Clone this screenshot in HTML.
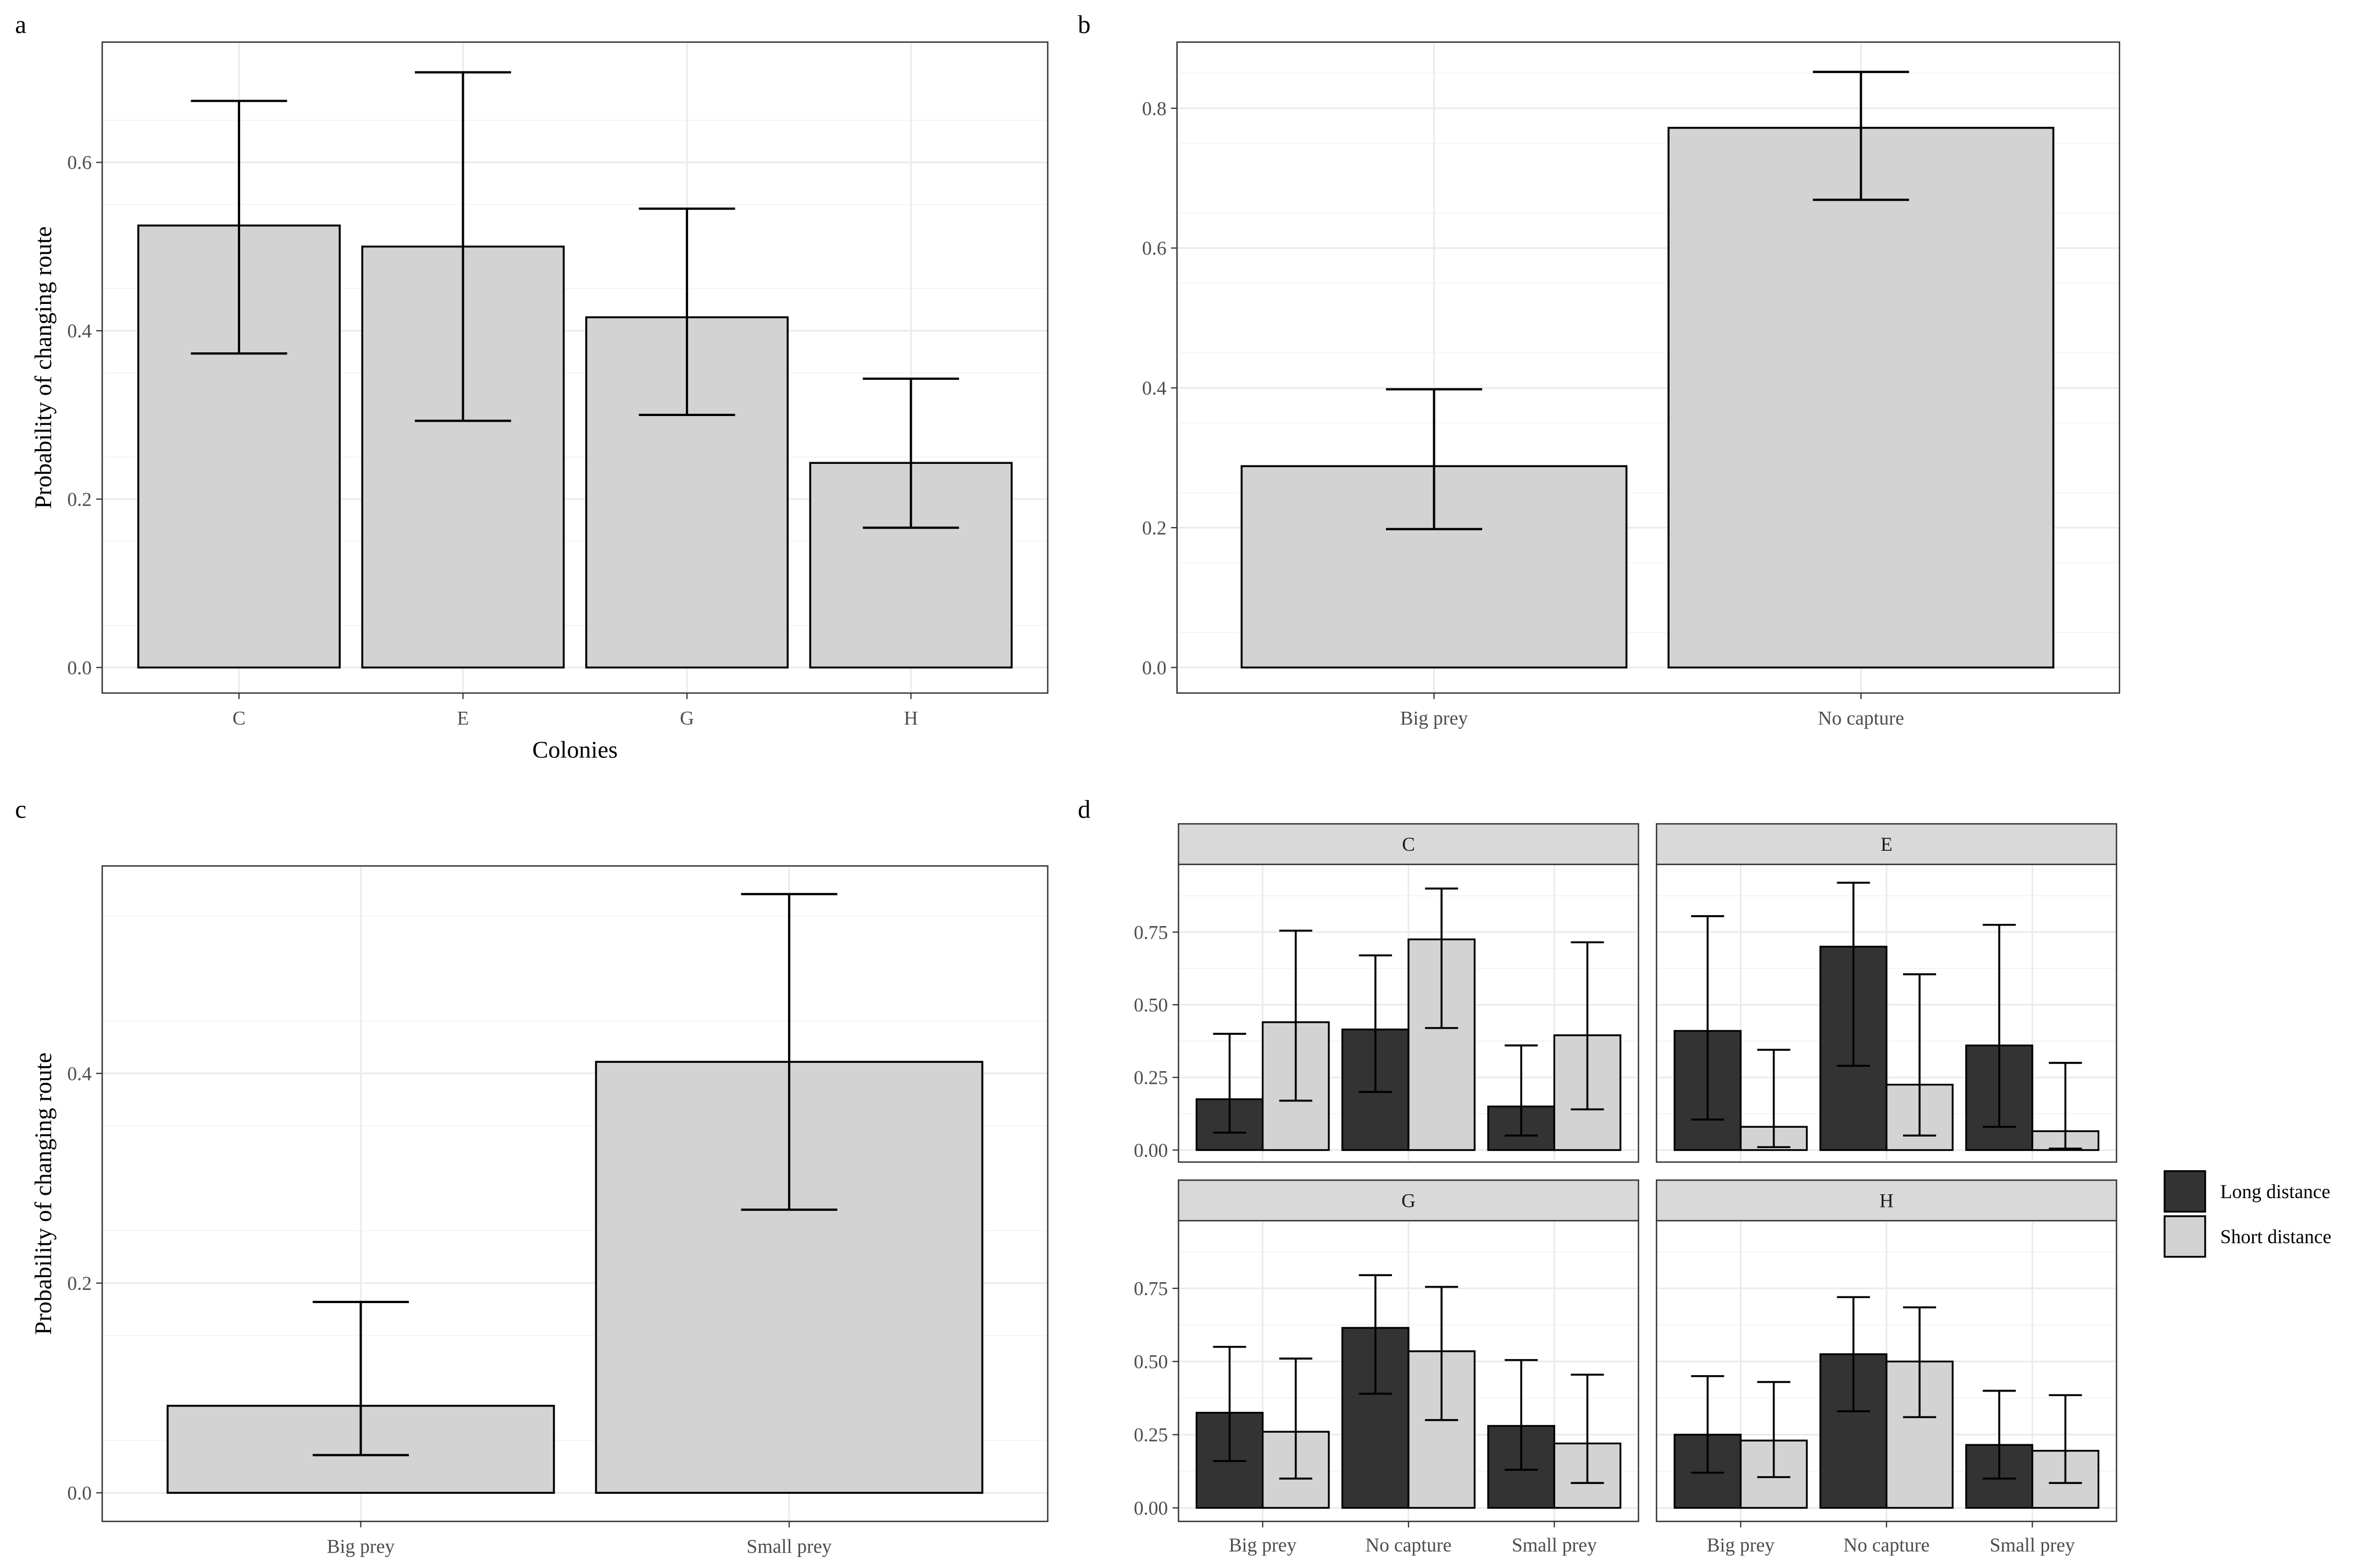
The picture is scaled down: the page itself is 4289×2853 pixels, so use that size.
<!DOCTYPE html>
<html><head><meta charset="utf-8"><title>Probability of changing route</title>
<style>
html,body{margin:0;padding:0;background:#fff;}
svg{display:block;}
text{font-family:"Liberation Serif","DejaVu Serif",serif;}
</style></head>
<body>
<svg id="fig" width="4289" height="2853" viewBox="0 0 1568 1043" xmlns="http://www.w3.org/2000/svg"></svg>
<script>
// Panel a data
const aCats = ["C","E","G","H"];
const aVals = [0.525, 0.50, 0.416, 0.243];
const aHi = [0.673, 0.707, 0.545, 0.343];
const aLo = [0.373, 0.293, 0.300, 0.166];
const aTicks = ["0.0","0.2","0.4","0.6"];
// Panel b data
const bCats = ["Big prey","No capture"];
const bVals = [0.288, 0.772];
const bHi = [0.398, 0.852];
const bLo = [0.198, 0.669];
const bTicks = ["0.0","0.2","0.4","0.6","0.8"];
// Panel c data
const cCats = ["Big prey","Small prey"];
const cVals = [0.083, 0.411];
const cHi = [0.182, 0.571];
const cLo = [0.036, 0.270];
const cTicks = ["0.0","0.2","0.4"];
// Panel d data
const dFacets = ["C","E","G","H"];
const dCats = ["Big prey","No capture","Small prey"];
const dSeries = ["Long distance","Short distance"];
const dLong = [[0.175,0.415,0.15],[0.41,0.70,0.36],[0.325,0.615,0.28],[0.25,0.525,0.215]];
const dLongHi = [[0.40,0.67,0.36],[0.805,0.92,0.775],[0.55,0.795,0.505],[0.45,0.72,0.40]];
const dLongLo = [[0.06,0.20,0.05],[0.105,0.29,0.08],[0.16,0.39,0.13],[0.12,0.33,0.10]];
const dShort = [[0.44,0.725,0.395],[0.08,0.225,0.065],[0.26,0.535,0.22],[0.23,0.50,0.195]];
const dShortHi = [[0.755,0.90,0.715],[0.345,0.605,0.30],[0.51,0.755,0.455],[0.43,0.685,0.385]];
const dShortLo = [[0.17,0.42,0.14],[0.01,0.05,0.005],[0.10,0.30,0.085],[0.105,0.31,0.085]];
const dTicks = ["0.00","0.25","0.50","0.75"];

const NS="http://www.w3.org/2000/svg";
const svg=document.getElementById('fig');
function mk(tag,attrs,parent,txt){
  const e=document.createElementNS(NS,tag);
  for(const k in attrs)e.setAttribute(k,attrs[k]);
  if(txt!==undefined)e.textContent=txt;
  (parent||svg).appendChild(e);return e;
}
function grp(name){const g=mk('g',{});return g;}

// Simple bar panel
function barPanel(o){
  const g=grp(o.name);
  const y=v=>o.y0-(v/o.unit)*o.ppu;
  mk('rect',{x:o.x1,y:o.yt,width:o.x2-o.x1,height:o.yb-o.yt,fill:'#fff'},g);
  // minor grid
  for(let i=0;i<=o.maxMinor;i++){
    const v=(i+0.5)*o.unit; const yy=y(v);
    if(yy>o.yt) mk('line',{x1:o.x1,x2:o.x2,y1:yy,y2:yy,stroke:'#f2f2f2','stroke-width':0.6},g);
  }
  o.ticks.forEach((t,i)=>{
    const yy=y(parseFloat(t));
    mk('line',{x1:o.x1,x2:o.x2,y1:yy,y2:yy,stroke:'#ebebeb','stroke-width':1.1},g);
    mk('line',{x1:o.x1-4,x2:o.x1,y1:yy,y2:yy,stroke:'#333','stroke-width':0.8},g);
    const tl=mk('text',{x:o.x1-7,y:yy+4.5,'font-size':13,fill:'#4d4d4d','text-anchor':'end'},g,t);
    
  });
  o.cats.forEach((c,i)=>{
    const cx=o.cx0+i*o.step;
    mk('line',{x1:cx,x2:cx,y1:o.yt,y2:o.yb,stroke:'#ebebeb','stroke-width':1.1},g);
  });
  o.cats.forEach((c,i)=>{
    const cx=o.cx0+i*o.step;
    const b=mk('rect',{x:cx-o.bw/2,y:y(o.vals[i]),width:o.bw,height:y(0)-y(o.vals[i]),fill:'#d3d3d3',stroke:'#000','stroke-width':1.3},g);
    
    const e=grp('error-bar-'+c.toLowerCase().replace(/ /g,'-'));g.appendChild(e);
    mk('line',{x1:cx,x2:cx,y1:y(o.hi[i]),y2:y(o.lo[i]),stroke:'#000','stroke-width':1.5},e);
    mk('line',{x1:cx-o.cap/2,x2:cx+o.cap/2,y1:y(o.hi[i]),y2:y(o.hi[i]),stroke:'#000','stroke-width':1.5},e);
    mk('line',{x1:cx-o.cap/2,x2:cx+o.cap/2,y1:y(o.lo[i]),y2:y(o.lo[i]),stroke:'#000','stroke-width':1.5},e);
    mk('line',{x1:cx,x2:cx,y1:o.yb,y2:o.yb+4,stroke:'#333','stroke-width':0.8},g);
    const xl=mk('text',{x:cx,y:o.yb+21,'font-size':13,fill:'#4d4d4d','text-anchor':'middle'},g,c);
    
  });
  mk('rect',{x:o.x1,y:o.yt,width:o.x2-o.x1,height:o.yb-o.yt,fill:'none',stroke:'#333','stroke-width':0.9},g);
  const pl=mk('text',{x:o.lx,y:o.ly,'font-size':17,fill:'#000'},g,o.label);
  
  if(o.ytitle){
    const cy=(o.yt+o.yb)/2;
    const t=mk('text',{x:0,y:0,transform:`translate(34,${cy}) rotate(-90)`,'font-size':16,'text-anchor':'middle',fill:'#000'},g,o.ytitle);
    
  }
  if(o.xtitle){
    const t=mk('text',{x:(o.x1+o.x2)/2,y:o.yb+43,'font-size':16,'text-anchor':'middle',fill:'#000'},g,o.xtitle);
    
  }
}

barPanel({name:'panel-a',label:'a',lx:10,ly:22,x1:68,x2:697,yt:28,yb:461,y0:444,unit:0.1,ppu:56,maxMinor:6,
  ticks:aTicks,cats:aCats,vals:aVals,hi:aHi,lo:aLo,cx0:159,step:149,bw:134,cap:64,
  ytitle:'Probability of changing route',xtitle:'Colonies'});
barPanel({name:'panel-b',label:'b',lx:717,ly:22,x1:783,x2:1410,yt:28,yb:461,y0:444,unit:0.1,ppu:46.5,maxMinor:8,
  ticks:bTicks,cats:bCats,vals:bVals,hi:bHi,lo:bLo,cx0:954,step:284,bw:256,cap:64});
barPanel({name:'panel-c',label:'c',lx:10,ly:544,x1:68,x2:697,yt:576,yb:1012,y0:993,unit:0.1,ppu:69.75,maxMinor:5,
  ticks:cTicks,cats:cCats,vals:cVals,hi:cHi,lo:cLo,cx0:240,step:285,bw:257,cap:64,
  ytitle:'Probability of changing route'});

// Panel d
const dp=grp('panel-d');
const pdl=mk('text',{x:717,y:544,'font-size':17,fill:'#000'},dp,'d');

const facetX=[784,1102], stripY=[548,785], stripH=27, panelH=[198,200], fw=306;
const zeroY=[765,1003], ppq=[193.3,194.7];
dFacets.forEach((f,fi)=>{
  const col=fi%2,row=Math.floor(fi/2);
  const fx=facetX[col], sy=stripY[row], py=sy+stripH, ph=panelH[row];
  const g=grp('facet-'+f);dp.appendChild(g);
  const y=v=>zeroY[row]-v*ppq[row];
  mk('rect',{x:fx,y:sy,width:fw,height:stripH,fill:'#d9d9d9',stroke:'#333','stroke-width':0.9},g);
  const st=mk('text',{x:fx+fw/2,y:sy+18,'font-size':13,'text-anchor':'middle',fill:'#1a1a1a'},g,f);
  
  mk('rect',{x:fx,y:py,width:fw,height:ph,fill:'#fff'},g);
  for(let k=0;k<4;k++){const yy=y(0.125+k*0.25);mk('line',{x1:fx,x2:fx+fw,y1:yy,y2:yy,stroke:'#f2f2f2','stroke-width':0.6},g);}
  dTicks.forEach(t=>{const yy=y(parseFloat(t));
    mk('line',{x1:fx,x2:fx+fw,y1:yy,y2:yy,stroke:'#ebebeb','stroke-width':1.1},g);
    if(col===0){
      mk('line',{x1:fx-4,x2:fx,y1:yy,y2:yy,stroke:'#333','stroke-width':0.8},g);
      const tl=mk('text',{x:fx-7,y:yy+4.5,'font-size':13,fill:'#4d4d4d','text-anchor':'end'},g,t);
      
    }});
  const cx0=fx+56, step=97, bw=44;
  dCats.forEach((c,ci)=>{const cx=cx0+ci*step;
    mk('line',{x1:cx,x2:cx,y1:py,y2:py+ph,stroke:'#ebebeb','stroke-width':1.1},g);});
  dCats.forEach((c,ci)=>{
    const cx=cx0+ci*step;
    [[dLong,dLongHi,dLongLo,'#333333',-1],[dShort,dShortHi,dShortLo,'#d3d3d3',1]].forEach(([V,H,L,fill,s],si)=>{
      const bx=s<0?cx-bw:cx, mx=bx+bw/2, v=V[fi][ci];
      const r=mk('rect',{x:bx,y:y(v),width:bw,height:y(0)-y(v),fill:fill,stroke:'#000','stroke-width':1.2},g);
      
      
      const hi=y(H[fi][ci]),lo=y(L[fi][ci]);
      mk('line',{x1:mx,x2:mx,y1:hi,y2:lo,stroke:'#000','stroke-width':1.3},g);
      mk('line',{x1:mx-11,x2:mx+11,y1:hi,y2:hi,stroke:'#000','stroke-width':1.3},g);
      mk('line',{x1:mx-11,x2:mx+11,y1:lo,y2:lo,stroke:'#000','stroke-width':1.3},g);
    });
    if(row===1){
      mk('line',{x1:cx,x2:cx,y1:py+ph,y2:py+ph+4,stroke:'#333','stroke-width':0.8},g);
      const xl=mk('text',{x:cx,y:py+ph+20,'font-size':13,fill:'#4d4d4d','text-anchor':'middle'},g,c);
      
    }
  });
  mk('rect',{x:fx,y:py,width:fw,height:ph,fill:'none',stroke:'#333','stroke-width':0.9},g);
});
// legend
const lg=grp('legend');
[['#333333',779],['#d3d3d3',809]].forEach((k,i)=>{
  const e=grp('legend-entry');lg.appendChild(e);
  mk('rect',{x:1440,y:k[1],width:27,height:27,fill:k[0],stroke:'#000','stroke-width':1.2},e);
  mk('text',{x:1477,y:k[1]+18,'font-size':13,fill:'#000'},e,dSeries[i]);
});
</script>
</body></html>
